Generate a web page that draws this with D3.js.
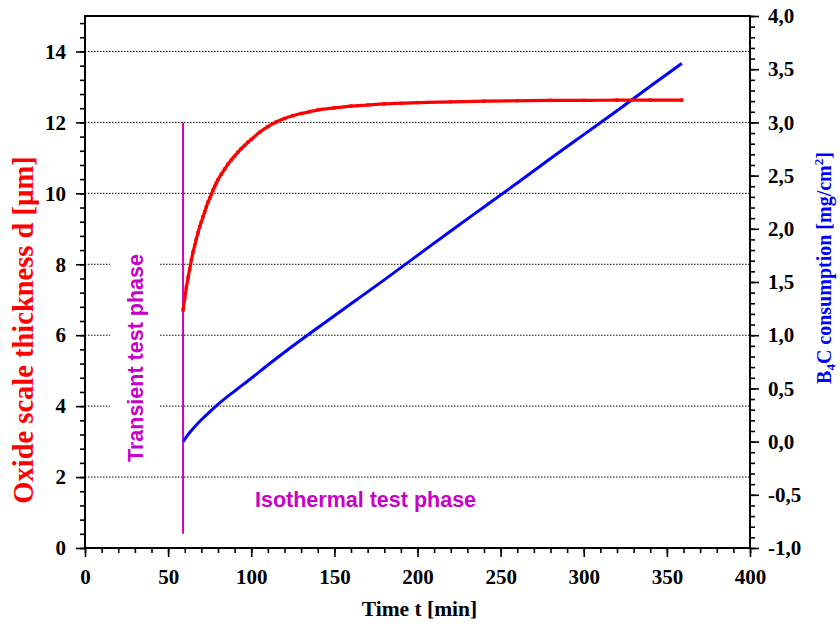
<!DOCTYPE html>
<html>
<head>
<meta charset="utf-8">
<script src="https://cdn.jsdelivr.net/npm/d3@7"></script>
<style>
  html, body { margin: 0; padding: 0; background: #fff; }
  svg { display: block; }
</style>
</head>
<body>
<svg id="chart" width="840" height="628"></svg>
<script>
// Oxide scale growth (left axis) and B4C consumption (right axis) vs. time
const oxideTime = [59, 60, 61, 62, 63, 64, 65, 66, 67, 68, 69, 70, 71, 72, 73, 74, 75, 76, 77, 78, 79, 80,
  82, 84, 86, 88, 90, 92, 94, 96, 98, 100, 105, 110, 115, 120, 125, 130, 135, 140, 150, 160, 170, 180,
  190, 200, 220, 240, 260, 280, 300, 320, 340, 359];
const oxideThickness = [6.71, 7.04, 7.35, 7.62, 7.87, 8.12, 8.34, 8.53, 8.72, 8.89, 9.06, 9.20, 9.34, 9.48,
  9.62, 9.75, 9.86, 9.97, 10.09, 10.19, 10.29, 10.38,
  10.54, 10.68, 10.82, 10.94, 11.05, 11.16, 11.26, 11.35, 11.44, 11.52, 11.72, 11.88, 12.01, 12.11, 12.19,
  12.25, 12.30, 12.35, 12.41, 12.46, 12.49, 12.52, 12.54, 12.56, 12.58, 12.60, 12.61, 12.62, 12.62, 12.63,
  12.63, 12.63];

const consumptionTime = [59, 61, 63, 66, 70, 75, 80, 90, 100, 110, 120, 140, 160, 180, 200, 220, 240, 260,
  280, 300, 320, 340, 359];
const b4cConsumption = [0.00, 0.045, 0.085, 0.14, 0.205, 0.28, 0.35, 0.475, 0.595, 0.72, 0.84, 1.07, 1.295,
  1.52, 1.75, 1.98, 2.205, 2.43, 2.66, 2.885, 3.11, 3.34, 3.555];

// Boundary between transient and isothermal phases
const phaseBoundaryTime = 59;
const phaseBoundaryRange = [0.4, 12];

const xTicks = [0, 50, 100, 150, 200, 250, 300, 350, 400];
const leftTicks = [0, 2, 4, 6, 8, 10, 12, 14];
const rightTicks = [-1, -0.5, 0, 0.5, 1, 1.5, 2, 2.5, 3, 3.5, 4];

const plot = { left: 85, right: 750, top: 16, bottom: 548 };
const serif = "'Liberation Serif', 'Times New Roman', serif";
const sans = "'Liberation Sans', Arial, sans-serif";
const magenta = "#c800c8";

const svg = d3.select("#chart");

const x = d3.scaleLinear().domain([0, 400]).range([plot.left, plot.right]);
const yL = d3.scaleLinear().domain([0, 15]).range([plot.bottom, plot.top]);
const yR = d3.scaleLinear().domain([-1, 4]).range([plot.bottom, plot.top]);

// Dotted grid at the left-axis major ticks
svg.append("g")
  .selectAll("line")
  .data(leftTicks.filter(d => d > 0))
  .join("line")
  .attr("x1", plot.left).attr("x2", plot.right)
  .attr("y1", d => yL(d)).attr("y2", d => yL(d))
  .attr("stroke", "#000").attr("stroke-width", 1)
  .attr("stroke-dasharray", "1.5,1.5");

function styleAxis(g) {
  g.select(".domain").remove();
  g.selectAll(".tick line").attr("stroke", "#000").attr("stroke-width", 1.6);
  g.selectAll(".tick text")
    .attr("fill", "#000")
    .style("font-family", serif)
    .style("font-weight", "bold")
    .style("font-size", "21px");
}

// Minor ticks
svg.append("g").attr("transform", `translate(${plot.left},0)`)
  .call(d3.axisLeft(yL).tickValues(d3.range(0, 15.001, 0.4)).tickSize(5).tickFormat(""))
  .call(styleAxis);
svg.append("g").attr("transform", `translate(0,${plot.bottom})`)
  .call(d3.axisBottom(x).tickValues(d3.range(0, 400.001, 10)).tickSize(5).tickFormat(""))
  .call(styleAxis);
svg.append("g").attr("transform", `translate(${plot.right},0)`)
  .call(d3.axisRight(yR).tickValues(d3.range(-1, 4.0001, 0.1)).tickSize(5).tickFormat(""))
  .call(styleAxis);

// Major ticks with labels
svg.append("g").attr("transform", `translate(${plot.left},0)`)
  .call(d3.axisLeft(yL).tickValues(leftTicks).tickSize(9).tickPadding(10).tickFormat(d => d))
  .call(styleAxis);
svg.append("g").attr("transform", `translate(0,${plot.bottom})`)
  .call(d3.axisBottom(x).tickValues(xTicks).tickSize(9).tickPadding(12).tickFormat(d => d))
  .call(styleAxis);
svg.append("g").attr("transform", `translate(${plot.right},0)`)
  .call(d3.axisRight(yR).tickValues(rightTicks).tickSize(9).tickPadding(9)
    .tickFormat(d => d.toFixed(1).replace(".", ",")))
  .call(styleAxis);

// Frame
svg.append("rect")
  .attr("x", plot.left).attr("y", plot.top)
  .attr("width", plot.right - plot.left).attr("height", plot.bottom - plot.top)
  .attr("fill", "none").attr("stroke", "#000").attr("stroke-width", 2);

// Phase labels
svg.append("rect")
  .attr("x", 110).attr("y", 245).attr("width", 50).attr("height", 225)
  .attr("fill", "#fff");
svg.append("text")
  .attr("transform", "translate(142.5,462) rotate(-90)")
  .attr("text-anchor", "start")
  .style("font-family", sans).style("font-weight", "bold").style("font-size", "21.5px")
  .attr("fill", magenta)
  .text("Transient test phase");
svg.append("text")
  .attr("x", 255).attr("y", 506.5)
  .style("font-family", sans).style("font-weight", "bold").style("font-size", "21.5px")
  .attr("fill", magenta)
  .text("Isothermal test phase");

// Phase boundary marker
svg.append("line")
  .attr("x1", x(phaseBoundaryTime)).attr("x2", x(phaseBoundaryTime))
  .attr("y1", yL(phaseBoundaryRange[0])).attr("y2", yL(phaseBoundaryRange[1]))
  .attr("stroke", magenta).attr("stroke-width", 2);

// B4C consumption
const b4cData = consumptionTime.map((t, i) => [t, b4cConsumption[i]]);
svg.append("path")
  .datum(b4cData)
  .attr("fill", "none").attr("stroke", "#0000ff").attr("stroke-width", 3)
  .attr("d", d3.line().x(d => x(d[0])).y(d => yR(d[1])).curve(d3.curveMonotoneX));

// Oxide scale thickness
const oxideData = oxideTime.map((t, i) => [t, oxideThickness[i]]);
svg.append("path")
  .datum(oxideData)
  .attr("fill", "none").attr("stroke", "#ff0000").attr("stroke-width", 3.2)
  .attr("d", d3.line().x(d => x(d[0])).y(d => yL(d[1])).curve(d3.curveMonotoneX));
svg.append("g")
  .selectAll("rect")
  .data(oxideData)
  .join("rect")
  .attr("x", d => x(d[0]) - 1.7).attr("y", d => yL(d[1]) - 1.7)
  .attr("width", 3.4).attr("height", 3.4)
  .attr("fill", "#ff0000");

// Axis titles
svg.append("text")
  .attr("x", 419.5).attr("y", 616)
  .attr("text-anchor", "middle")
  .style("font-family", serif).style("font-weight", "bold").style("font-size", "21.5px")
  .text("Time t [min]");

svg.append("text")
  .attr("transform", "translate(33,330) rotate(-90)")
  .attr("text-anchor", "middle")
  .attr("fill", "#ff0000")
  .style("font-family", serif).style("font-weight", "bold").style("font-size", "28.5px")
  .text("Oxide scale thickness d [µm]");

const rt = svg.append("text")
  .attr("transform", "translate(831,268) rotate(-90)")
  .attr("text-anchor", "middle")
  .attr("fill", "#0000ff")
  .style("font-family", serif).style("font-weight", "bold").style("font-size", "20px");
rt.append("tspan").text("B");
rt.append("tspan").attr("dy", 4).style("font-size", "13px").text("4");
rt.append("tspan").attr("dy", -4).text("C consumption [mg/cm");
rt.append("tspan").attr("dy", -8).style("font-size", "13px").text("2");
rt.append("tspan").attr("dy", 8).text("]");
</script>
</body>
</html>
